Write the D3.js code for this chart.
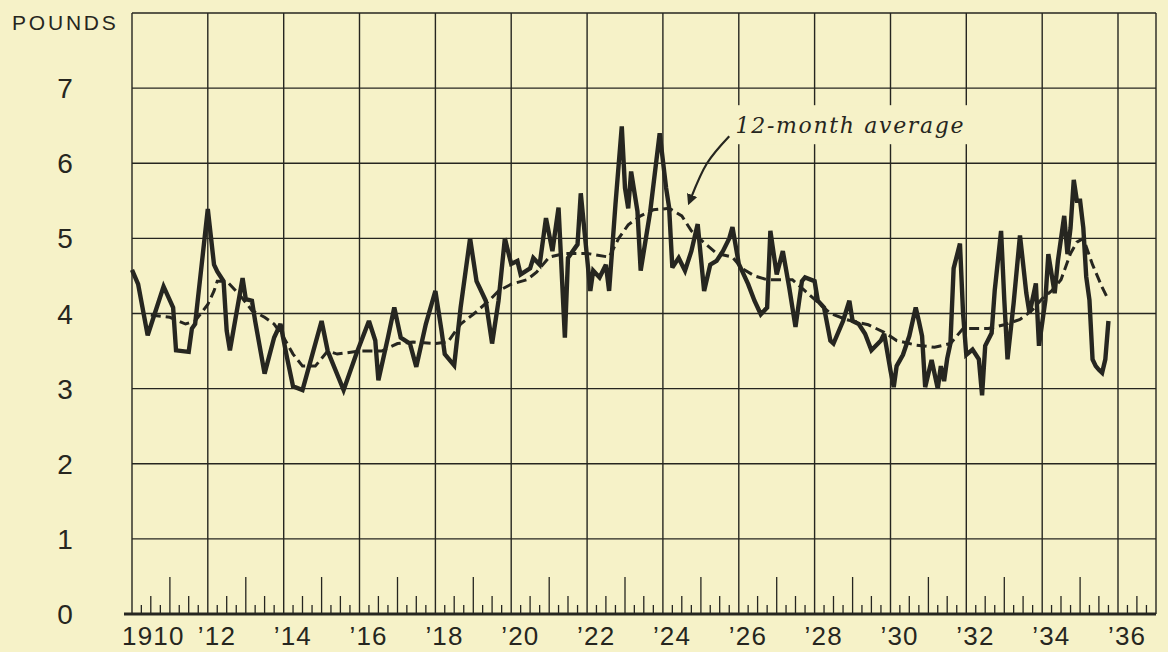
<!DOCTYPE html>
<html>
<head>
<meta charset="utf-8">
<script src="https://cdn.jsdelivr.net/npm/d3@7"></script>
<style>
  body { margin: 0; background: #f6f2c8; }
  svg { display: block; }
</style>
</head>
<body>
<div id="chart"></div>
<script>
// monthly consumption, pounds (vertices)
const solidDates = [
  "1910-01","1910-03","1910-06","1910-11","1911-02","1911-03","1911-07","1911-08","1911-09","1912-01",
  "1912-03","1912-04","1912-06","1912-07","1912-08","1912-12","1913-01","1913-03","1913-04","1913-07",
  "1913-10","1913-12","1914-02","1914-04","1914-07","1914-09","1915-01","1915-03","1915-08","1915-12",
  "1916-04","1916-06","1916-07","1916-10","1916-12","1917-02","1917-05","1917-07","1917-10","1918-01",
  "1918-03","1918-04","1918-07","1918-09","1918-12","1919-02","1919-03","1919-05","1919-07","1919-09",
  "1919-11","1920-01","1920-03","1920-04","1920-07","1920-08","1920-10","1920-12","1921-02","1921-04",
  "1921-06","1921-07","1921-10","1921-11","1922-01","1922-02","1922-03","1922-05","1922-07","1922-08",
  "1922-10","1922-12","1923-01","1923-02","1923-03","1923-05","1923-06","1923-09","1923-12","1924-02",
  "1924-03","1924-04","1924-06","1924-08","1924-10","1924-12","1925-02","1925-04","1925-06","1925-08",
  "1925-10","1925-11","1926-01","1926-04","1926-06","1926-08","1926-10","1926-11","1927-01","1927-03",
  "1927-05","1927-07","1927-09","1927-10","1928-01","1928-02","1928-04","1928-06","1928-07","1928-10",
  "1928-12","1929-01","1929-03","1929-05","1929-07","1929-10","1929-11","1930-01","1930-02","1930-03",
  "1930-05","1930-07","1930-09","1930-10","1930-11","1930-12","1931-02","1931-04","1931-05","1931-06",
  "1931-07","1931-08","1931-09","1931-11","1931-12","1932-01","1932-03","1932-05","1932-06","1932-07",
  "1932-09","1932-10","1932-12","1933-01","1933-02","1933-04","1933-06","1933-08","1933-09","1933-11",
  "1933-12","1934-02","1934-03","1934-05","1934-06","1934-08","1934-09","1934-10","1934-11","1934-12",
  "1935-01","1935-02","1935-03","1935-04","1935-05","1935-06","1935-07","1935-08","1935-09","1935-10"
];
const solidValues = [
  4.58,4.39,3.71,4.36,4.08,3.51,3.49,3.80,3.86,5.39,
  4.65,4.56,4.43,3.77,3.51,4.47,4.19,4.17,3.90,3.20,
  3.68,3.86,3.42,3.03,2.98,3.29,3.90,3.50,2.98,3.46,
  3.90,3.64,3.11,3.68,4.08,3.68,3.60,3.29,3.86,4.30,
  3.77,3.46,3.31,4.08,5.00,4.43,4.35,4.17,3.60,4.17,
  5.00,4.66,4.70,4.52,4.60,4.74,4.65,5.27,4.83,5.41,
  3.68,4.74,4.92,5.60,4.74,4.30,4.57,4.48,4.65,4.30,
  5.45,6.49,5.67,5.40,5.89,5.36,4.57,5.36,6.40,5.67,
  5.41,4.61,4.74,4.57,4.83,5.19,4.30,4.65,4.70,4.83,
  5.00,5.15,4.66,4.39,4.17,3.99,4.08,5.10,4.52,4.83,
  4.35,3.82,4.43,4.48,4.43,4.17,4.08,3.64,3.60,3.90,
  4.17,3.90,3.86,3.73,3.51,3.64,3.73,3.24,3.02,3.30,
  3.45,3.70,4.08,3.90,3.70,3.02,3.38,3.00,3.30,3.10,
  3.40,3.60,4.60,4.93,4.00,3.45,3.52,3.39,2.91,3.57,
  3.74,4.31,5.10,4.18,3.39,4.14,5.04,4.27,4.00,4.40,
  3.57,4.18,4.79,4.27,4.70,5.30,4.79,5.14,5.78,5.50,
  5.50,5.14,4.49,4.18,3.39,3.30,3.25,3.21,3.39,3.90
];

// 12-month average (dashed)
const avgDates = [
  "1910-07","1911-01","1911-06","1911-09","1912-01","1912-03","1912-04","1912-07","1912-09","1912-12",
  "1913-03","1913-07","1913-10","1914-01","1914-04","1914-07","1914-11","1915-03","1915-06","1916-01",
  "1916-08","1917-01","1917-06","1918-01","1918-05","1918-09","1919-01","1919-06","1919-09","1920-01",
  "1920-06","1920-09","1921-01","1921-06","1922-01","1922-08","1922-11","1923-02","1923-06","1923-10",
  "1924-03","1924-07","1924-10","1925-01","1925-06","1925-11","1926-02","1926-06","1926-10","1927-06",
  "1927-10","1928-02","1928-06","1928-11","1929-06","1929-11","1930-03","1930-09","1931-03","1931-08",
  "1931-12","1932-08","1933-01","1933-06","1933-10","1934-01","1934-04","1934-07","1934-10","1934-12",
  "1935-02","1935-05","1935-08","1935-10"
];
const avgValues = [
  3.98,3.95,3.86,3.90,4.12,4.30,4.43,4.43,4.34,4.20,
  4.04,3.95,3.86,3.68,3.46,3.30,3.30,3.50,3.46,3.50,
  3.50,3.60,3.62,3.60,3.62,3.86,3.99,4.17,4.30,4.39,
  4.45,4.55,4.75,4.80,4.80,4.75,5.00,5.18,5.30,5.38,
  5.40,5.30,5.10,4.98,4.80,4.75,4.60,4.50,4.45,4.45,
  4.30,4.15,4.00,3.92,3.85,3.75,3.64,3.58,3.55,3.60,
  3.80,3.80,3.85,3.92,4.05,4.20,4.30,4.45,4.80,4.95,
  5.00,4.65,4.35,4.18
];

const yTicks = [0, 1, 2, 3, 4, 5, 6, 7];
const xTickYears = [1910,1912,1914,1916,1918,1920,1922,1924,1926,1928,1930,1932,1934,1936];
const xTickLabels = ["1910","’12","’14","’16","’18","’20","’22","’24","’26","’28","’30","’32","’34","’36"];

// annotation arrow path, in chart coordinates
const arrowDates = ["1925-10", "1925-03", "1924-10"];
const arrowValues = [6.36, 6.0, 5.55];
const annotationText = "12-month average";

const width = 1168, height = 652;
const ink = "#262620";
const paper = "#f6f2c8";
const parse = d3.timeParse("%Y-%m");

const svg = d3.select("#chart").append("svg")
  .attr("width", width)
  .attr("height", height)
  .style("background", paper);

const x = d3.scaleTime()
  .domain([new Date(1910, 0, 1), new Date(1937, 0, 1)])
  .range([132, 1156]);

const y = d3.scaleLinear()
  .domain([0, 8])
  .range([614, 13]);

const grid = svg.append("g").attr("stroke", ink).attr("stroke-width", 1.4);

// horizontal grid (1..8, 8 = top frame)
grid.selectAll("line.h")
  .data(d3.range(1, 9))
  .join("line")
  .attr("class", "h")
  .attr("x1", x.range()[0]).attr("x2", x.range()[1])
  .attr("y1", d => y(d)).attr("y2", d => y(d));

// vertical grid every 2 years + frame
const vYears = xTickYears.concat([1937]);
grid.selectAll("line.v")
  .data(vYears)
  .join("line")
  .attr("class", "v")
  .attr("x1", d => x(new Date(d, 0, 1))).attr("x2", d => x(new Date(d, 0, 1)))
  .attr("y1", y(8)).attr("y2", y(0));

// quarter ticks along the bottom
const quarters = d3.timeMonth.every(3).range(new Date(1910, 3, 1), new Date(1937, 0, 1));
svg.append("g")
  .attr("stroke", ink)
  .attr("stroke-width", 1.3)
  .selectAll("line")
  .data(quarters.filter(d => !(d.getMonth() === 0 && d.getFullYear() % 2 === 0)))
  .join("line")
  .attr("x1", d => x(d)).attr("x2", d => x(d))
  .attr("y1", y(0))
  .attr("y2", d => {
    const m = d.getMonth();
    const len = m === 0 ? 37 : (m === 6 ? 18 : 9);
    return y(0) - len;
  });

// bottom axis line
svg.append("line")
  .attr("x1", 124).attr("x2", x.range()[1])
  .attr("y1", y(0)).attr("y2", y(0))
  .attr("stroke", ink)
  .attr("stroke-width", 3.2);

// y labels
svg.append("g")
  .selectAll("text")
  .data(yTicks)
  .join("text")
  .attr("x", 65)
  .attr("y", d => y(d) + 10)
  .attr("text-anchor", "middle")
  .attr("font-family", "Liberation Sans, Arial, sans-serif")
  .attr("font-size", 28)
  .attr("fill", ink)
  .text(d => d);

svg.append("text")
  .attr("x", 12)
  .attr("y", 30)
  .attr("font-family", "Liberation Sans, Arial, sans-serif")
  .attr("font-size", 21)
  .attr("letter-spacing", 2.8)
  .attr("fill", ink)
  .text("POUNDS");

// x labels
svg.append("g")
  .selectAll("text")
  .data(xTickYears)
  .join("text")
  .attr("x", d => x(new Date(d, 0, 1)) - 10)
  .attr("y", 645)
  .attr("font-family", "Liberation Sans, Arial, sans-serif")
  .attr("font-size", 26)
  .attr("letter-spacing", 1.2)
  .attr("fill", ink)
  .text((d, i) => xTickLabels[i]);

const avgData = avgDates.map((d, i) => ({ date: parse(d), value: avgValues[i] }));
const solidData = solidDates.map((d, i) => ({ date: parse(d), value: solidValues[i] }));

const line = d3.line()
  .x(d => x(d.date))
  .y(d => y(d.value));

// 12-month average line (dashed)
svg.append("path")
  .datum(avgData)
  .attr("d", line)
  .attr("fill", "none")
  .attr("stroke", ink)
  .attr("stroke-width", 3)
  .attr("stroke-dasharray", "10,5");

svg.append("path")
  .datum(solidData)
  .attr("d", line)
  .attr("fill", "none")
  .attr("stroke", ink)
  .attr("stroke-width", 4.4)
  .attr("stroke-linejoin", "miter")
  .attr("stroke-miterlimit", 3);

// annotation: paper patch behind the label breaks the grid lines
const note = svg.append("g");
const patch = note.append("rect").attr("fill", paper);
const label = note.append("text")
  .attr("x", x(parse("1925-12")))
  .attr("y", y(6.4))
  .attr("font-family", "DejaVu Serif, serif")
  .attr("font-style", "italic")
  .attr("font-size", 22)
  .attr("fill", ink)
  .attr("textLength", 228)
  .attr("lengthAdjust", "spacing")
  .text(annotationText);

const bb = label.node().getBBox();
patch
  .attr("x", bb.x - 4)
  .attr("y", bb.y - 8)
  .attr("width", bb.width + 8)
  .attr("height", bb.height + 14);

svg.append("defs").append("marker")
  .attr("id", "head")
  .attr("viewBox", "0 0 10 10")
  .attr("refX", 2)
  .attr("refY", 5)
  .attr("markerWidth", 5)
  .attr("markerHeight", 5)
  .attr("markerUnits", "strokeWidth")
  .attr("orient", "auto")
  .append("path")
  .attr("d", "M0,0 L10,5 L0,10 z")
  .attr("fill", ink);

const arrowLine = d3.line()
  .x(d => x(d.date))
  .y(d => y(d.value))
  .curve(d3.curveNatural);

note.append("path")
  .datum(arrowDates.map((d, i) => ({ date: parse(d), value: arrowValues[i] })))
  .attr("d", arrowLine)
  .attr("fill", "none")
  .attr("stroke", ink)
  .attr("stroke-width", 2.2)
  .attr("marker-end", "url(#head)");
</script>
</body>
</html>
